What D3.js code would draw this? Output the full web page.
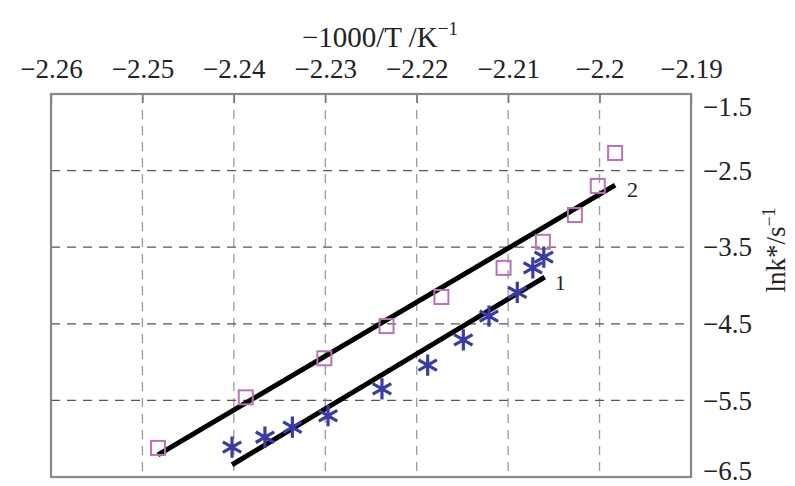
<!DOCTYPE html>
<html>
<head>
<meta charset="utf-8">
<script src="https://cdn.jsdelivr.net/npm/d3@7"></script>
<style>
  body { margin: 0; background: #fff; }
  text { font-family: "Liberation Serif", "Times New Roman", serif; }
</style>
</head>
<body>
<script>
// datos
const xTicks = [-2.26, -2.25, -2.24, -2.23, -2.22, -2.21, -2.2, -2.19];
const yTicks = [-1.5, -2.5, -3.5, -4.5, -5.5, -6.5];

// serie 2 (cuadrados)
const cuadX = [-2.2483, -2.2387, -2.2301, -2.2233, -2.2173, -2.2105, -2.2062, -2.2027, -2.2002, -2.1983];
const cuadY = [-6.12, -5.46, -4.95, -4.53, -4.15, -3.77, -3.43, -3.08, -2.70, -2.27];

// serie 1 (asteriscos)
const astX = [-2.2402, -2.2366, -2.2336, -2.2297, -2.2238, -2.2188, -2.2149, -2.2121, -2.2090, -2.2073, -2.2061];
const astY = [-6.11, -5.98, -5.85, -5.70, -5.35, -5.04, -4.71, -4.40, -4.09, -3.77, -3.63];

// rectas de ajuste
const recta1X = [-2.2402, -2.2060];
const recta1Y = [-6.34, -3.89];
const recta2X = [-2.2483, -2.1983];
const recta2Y = [-6.21, -2.69];

const W = 795, H = 486;
const mIzq = 51, mDer = 691, mSup = 94, mInf = 477;

const svg = d3.select("body").append("svg")
  .attr("width", W).attr("height", H);

const x = d3.scaleLinear().domain([-2.26, -2.19]).range([mIzq, mDer]);
const y = d3.scaleLinear().domain([-1.5, -6.5]).range([mSup, mInf]);

// rejilla vertical
svg.append("g")
  .selectAll("line")
  .data(xTicks.slice(1, -1))
  .join("line")
  .attr("x1", d => x(d)).attr("x2", d => x(d))
  .attr("y1", mSup).attr("y2", mInf)
  .attr("stroke", "#9a9a9a")
  .attr("stroke-width", 1.3)
  .attr("stroke-dasharray", "9,7");

// rejilla horizontal
svg.append("g")
  .selectAll("line")
  .data(yTicks.slice(1, -1))
  .join("line")
  .attr("x1", mIzq).attr("x2", mDer)
  .attr("y1", d => y(d)).attr("y2", d => y(d))
  .attr("stroke", "#555")
  .attr("stroke-width", 1.3)
  .attr("stroke-dasharray", "9,7");

// eje superior
const ejeX = svg.append("g")
  .attr("transform", `translate(0,${mSup})`)
  .call(d3.axisTop(x).tickValues(xTicks).tickFormat(d3.format("~g"))
    .tickSizeInner(-9).tickSizeOuter(0).tickPadding(16));
ejeX.select(".domain").remove();
ejeX.selectAll("line").attr("stroke", "#777").attr("stroke-width", 1.5);
ejeX.selectAll("text").attr("font-size", 27).attr("fill", "#222");

// eje derecho
const ejeY = svg.append("g")
  .attr("transform", `translate(${mDer},0)`)
  .call(d3.axisRight(y).tickValues(yTicks).tickFormat(d3.format("~g"))
    .tickSize(0).tickPadding(12));
ejeY.select(".domain").remove();
ejeY.selectAll("text").attr("font-size", 27).attr("fill", "#222")
  .attr("dy", (d, i, n) => i === 0 ? "0.8em" : (i === n.length - 1 ? "0.1em" : "0.32em"));

// marco
svg.append("rect")
  .attr("x", mIzq).attr("y", mSup)
  .attr("width", mDer - mIzq).attr("height", mInf - mSup)
  .attr("fill", "none").attr("stroke", "#888").attr("stroke-width", 2.2);

// rectas
const linea = d3.line().x(d => x(d[0])).y(d => y(d[1]));
svg.append("path")
  .attr("d", linea(d3.zip(recta2X, recta2Y)))
  .attr("stroke", "#000").attr("stroke-width", 5).attr("fill", "none");
svg.append("path")
  .attr("d", linea(d3.zip(recta1X, recta1Y)))
  .attr("stroke", "#000").attr("stroke-width", 5).attr("fill", "none");

// cuadrados
svg.append("g")
  .selectAll("rect")
  .data(d3.zip(cuadX, cuadY))
  .join("rect")
  .attr("x", d => x(d[0]) - 7).attr("y", d => y(d[1]) - 7)
  .attr("width", 14).attr("height", 14)
  .attr("fill", "none")
  .attr("stroke", "#b574b5")
  .attr("stroke-width", 2);

// asteriscos
svg.append("g")
  .selectAll("path")
  .data(d3.zip(astX, astY))
  .join("path")
  .attr("transform", d => `translate(${x(d[0])},${y(d[1])})`)
  .attr("d", d3.symbol(d3.symbolAsterisk, 320))
  .attr("fill", "none")
  .attr("stroke", "#3b3ba6")
  .attr("stroke-width", 3.2);

// etiquetas de las rectas
svg.append("text")
  .attr("x", x(recta2X[1]) + 12).attr("y", y(recta2Y[1]) + 12)
  .attr("font-size", 22).attr("fill", "#222").text("2");
svg.append("text")
  .attr("x", x(recta1X[1]) + 10).attr("y", y(recta1Y[1]) + 13)
  .attr("font-size", 22).attr("fill", "#222").text("1");

// títulos
const tx = svg.append("text")
  .attr("x", 380).attr("y", 47)
  .attr("text-anchor", "middle")
  .attr("font-size", 29).attr("fill", "#222");
tx.append("tspan").text("−1000/T /K");
tx.append("tspan").attr("dy", -12).attr("font-size", 19).text("−1");

const ty = svg.append("text")
  .attr("transform", "translate(785,250) rotate(-90)")
  .attr("text-anchor", "middle")
  .attr("font-size", 27).attr("fill", "#222");
ty.append("tspan").text("lnk*/s");
ty.append("tspan").attr("dy", -10).attr("font-size", 18).text("−1");
</script>
</body>
</html>
